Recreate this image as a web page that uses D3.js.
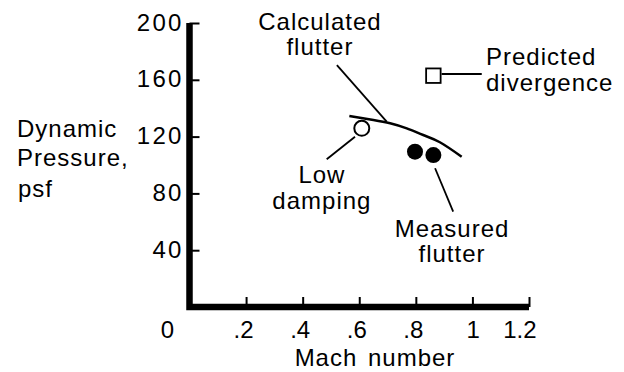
<!DOCTYPE html>
<html>
<head>
<meta charset="utf-8">
<script src="https://cdn.jsdelivr.net/npm/d3@7"></script>
<style>
  body { margin: 0; background: #fff; }
  svg text { font-family: "Liberation Sans", Arial, sans-serif; font-size: 24px; fill: #000; }
  .lbl { letter-spacing: 1px; }
  .yax text { letter-spacing: 2.2px; }
</style>
</head>
<body>
<div id="chart"></div>
<script>
// flutter test: dynamic pressure (psf) against Mach number
const xTicks = [0, 0.2, 0.4, 0.6, 0.8, 1, 1.2];
const xTickLabels = ['0', '.2', '.4', '.6', '.8', '1', '1.2'];
const yTicks = [40, 80, 120, 160, 200];

const calcMach = [0.565, 0.650, 0.709, 0.768, 0.826, 0.885, 0.962];
const calcQ = [134.5, 131.7, 129.4, 125.8, 121.1, 116.0, 105.8];

const lowDampMach = [0.609];
const lowDampQ = [125.8];

const measuredMach = [0.797, 0.862];
const measuredQ = [109.4, 107.0];

const divergenceMach = [0.862];
const divergenceQ = [162.9];

const noteText = [['Calculated', 'flutter'], ['Predicted', 'divergence'], ['Low', 'damping'], ['Measured', 'flutter']];

// layout: where the notes and their leader lines sit, in data units
const noteMach = [0.461, 1.048, 0.468, 0.928];
const noteQ = [195.1, 170.4, 87.3, 49.3];
const noteAnchor = ['middle', 'start', 'middle', 'middle'];
const leaderMach = [[0.521, 0.697], [0.891, 1.033], [0.585, 0.485], [0.868, 0.932]];
const leaderQ = [[170.4, 130.5], [164.1, 164.1], [119.9, 104.0], [97.7, 67.1]];

const width = 624, height = 372;
const svg = d3.select('#chart').append('svg')
	.attr('width', width)
	.attr('height', height);

const x = d3.scaleLinear().domain([0, 1.2]).range([189.5, 529]);
const y = d3.scaleLinear().domain([0, 200]).range([307, 23]);

// x axis, ticks pointing up into the plot
const gx = svg.append('g')
	.attr('transform', 'translate(0,' + y(0) + ')')
	.call(d3.axisBottom(x)
		.tickValues(xTicks)
		.tickFormat((d, i) => xTickLabels[i])
		.tickSize(-10)
		.tickPadding(14));
gx.select('.domain').remove();
gx.selectAll('.tick line').attr('stroke', '#000').attr('stroke-width', 2);
gx.selectAll('.tick text')
	.attr('text-anchor', 'end')
	.attr('dx', d => d === 0 ? -16 : 7);

// y axis, ticks pointing right
const gy = svg.append('g')
	.attr('class', 'yax')
	.attr('transform', 'translate(' + x(0) + ',0)')
	.call(d3.axisLeft(y)
		.tickValues(yTicks)
		.tickSize(-10)
		.tickPadding(6));
gy.select('.domain').remove();
gy.selectAll('.tick line').attr('stroke', '#000').attr('stroke-width', 2);
gy.selectAll('.tick text').attr('dy', 7);

// heavy L-shaped frame
svg.append('path')
	.attr('d', d3.line().x(d => x(d[0])).y(d => y(d[1]))([[0, 200], [0, 0], [1.2, 0]]))
	.attr('fill', 'none')
	.attr('stroke', '#000')
	.attr('stroke-width', 6.5)
	.attr('stroke-linejoin', 'miter');

// axis titles
const yTitle = svg.append('text').attr('class', 'lbl').attr('x', 17).attr('y', 137);
['Dynamic', 'Pressure,', 'psf'].forEach((t, i) => {
	yTitle.append('tspan').attr('x', i === 2 ? 18 : 17).attr('dy', i === 0 ? 0 : (i === 1 ? 29 : 31)).text(t);
});
svg.append('text')
	.attr('class', 'lbl')
	.attr('x', 375)
	.attr('y', 366)
	.attr('text-anchor', 'middle')
	.style('word-spacing', '3px')
	.text('Mach number');

// calculated flutter boundary
svg.append('path')
	.datum(calcMach.map((m, i) => [m, calcQ[i]]))
	.attr('fill', 'none')
	.attr('stroke', '#000')
	.attr('stroke-width', 2.5)
	.attr('d', d3.line()
		.x(d => x(d[0]))
		.y(d => y(d[1]))
		.curve(d3.curveNatural));

// leader lines
leaderMach.forEach((m, i) => {
	svg.append('line')
		.attr('x1', x(m[0])).attr('y1', y(leaderQ[i][0]))
		.attr('x2', x(m[1])).attr('y2', y(leaderQ[i][1]))
		.attr('stroke', '#000')
		.attr('stroke-width', 1.8);
});

// low damping point
svg.selectAll('.low')
	.data(lowDampMach)
	.enter().append('circle')
	.attr('class', 'low')
	.attr('cx', d => x(d))
	.attr('cy', (d, i) => y(lowDampQ[i]))
	.attr('r', 7.5)
	.attr('fill', '#fff')
	.attr('stroke', '#000')
	.attr('stroke-width', 2);

// measured flutter points
svg.selectAll('.meas')
	.data(measuredMach)
	.enter().append('circle')
	.attr('class', 'meas')
	.attr('cx', d => x(d))
	.attr('cy', (d, i) => y(measuredQ[i]))
	.attr('r', 8)
	.attr('fill', '#000');

// predicted divergence
const sq = 14.5;
svg.selectAll('.div')
	.data(divergenceMach)
	.enter().append('rect')
	.attr('class', 'div')
	.attr('x', d => x(d) - sq / 2)
	.attr('y', (d, i) => y(divergenceQ[i]) - sq / 2)
	.attr('width', sq)
	.attr('height', sq)
	.attr('fill', '#fff')
	.attr('stroke', '#000')
	.attr('stroke-width', 1.8);

// note text
noteText.forEach((lines, i) => {
	const t = svg.append('text')
		.attr('class', 'lbl')
		.attr('text-anchor', noteAnchor[i])
		.attr('x', x(noteMach[i]))
		.attr('y', y(noteQ[i]));
	lines.forEach((s, j) => {
		t.append('tspan')
			.attr('x', x(noteMach[i]))
			.attr('dy', j === 0 ? 0 : 25.5)
			.text(s);
	});
});
</script>
</body>
</html>
